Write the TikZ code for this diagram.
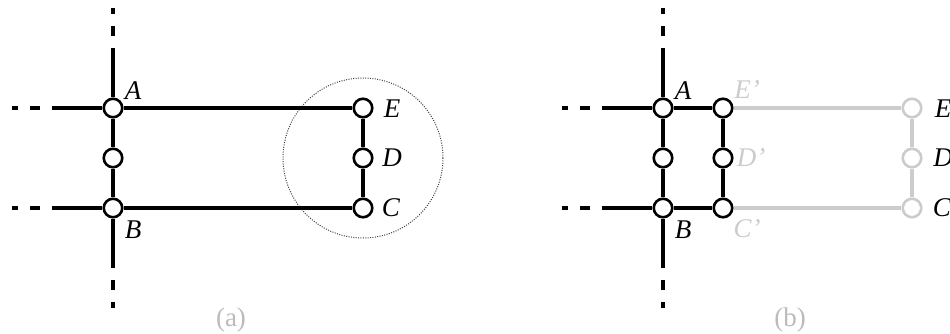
\documentclass[tikz,border=0pt]{standalone}
\usepackage{fontspec}
\setmainfont{Liberation Serif}
\usepackage{xcolor}
\usetikzlibrary{positioning,calc}
\definecolor{ghost}{HTML}{CCCCCC}
\definecolor{captiongray}{HTML}{BBBBBB}
\tikzset{
  junction/.style={
    circle,draw=black,fill=white,
    line width=1.3pt,inner sep=0pt,minimum size=9.25pt
  },
  ghostjunction/.style={junction,draw=ghost},
  wire/.style={draw=black,line width=2.2pt},
  ghostwire/.style={wire,draw=ghost},
  tail/.style={wire,dash pattern=on 5pt off 6pt,dash phase=5pt},
  tag/.style={inner sep=0pt,font=\fontsize{13.5}{15}\selectfont\itshape},
  ghosttag/.style={tag,text=ghost},
  caption/.style={inner sep=0pt,text=captiongray,font=\fontsize{13.5}{15}\selectfont},
  zoomring/.style={draw=black!75,line width=0.5pt,dash pattern=on 0.5pt off 0.7pt}
}

\begin{document}
\begin{tikzpicture}[x=0.5pt,y=-0.5pt]
\useasboundingbox (0,0) rectangle (950,333);

% (a)
\node[junction] (aA) at (113,108) {};
\node[junction] (aM) at (113,158) {};
\node[junction] (aB) at (113,208) {};
\node[junction] (aE) at (363,108) {};
\node[junction] (aD) at (363,158) {};
\node[junction] (aC) at (363,208) {};

\coordinate (aN) at (113,48);  \coordinate (aNend) at (113,8);
\coordinate (aS) at (113,268); \coordinate (aSend) at (113,308);
\coordinate (aW1) at (52,108); \coordinate (aW1end) at (12,108);
\coordinate (aW2) at (52,208); \coordinate (aW2end) at (12,208);

\draw[zoomring] (aD) circle[radius=80];

\draw[wire] (aN)--(aA);
\draw[wire] (aA)--(aM);
\draw[wire] (aM)--(aB);
\draw[wire] (aB)--(aS);
\draw[wire] (aW1)--(aA);
\draw[wire] (aW2)--(aB);
\draw[tail] (aN)--(aNend);
\draw[tail] (aS)--(aSend);
\draw[tail] (aW1)--(aW1end);
\draw[tail] (aW2)--(aW2end);
\draw[wire] (aA)--(aE);
\draw[wire] (aB)--(aC);
\draw[wire] (aE)--(aD);
\draw[wire] (aD)--(aC);

\node[tag] at (133,91) {A};
\node[tag] at (133,230) {B};
\node[tag] at (392,109) {E};
\node[tag] at (392,158) {D};
\node[tag] at (391,208) {C};
\node[caption] (capa) at (231,320) {(a)};

% (b)
\node[junction] (bA) at (663,108) {};
\node[junction] (bM) at (663,158) {};
\node[junction] (bB) at (663,208) {};
\node[junction] (bE1) at (723,108) {};
\node[junction] (bD1) at (723,158) {};
\node[junction] (bC1) at (723,208) {};
\node[ghostjunction] (bE) at (912,108) {};
\node[ghostjunction] (bD) at (912,158) {};
\node[ghostjunction] (bC) at (912,208) {};

\coordinate (bN) at (663,48);  \coordinate (bNend) at (663,8);
\coordinate (bS) at (663,268); \coordinate (bSend) at (663,308);
\coordinate (bW1) at (602,108); \coordinate (bW1end) at (562,108);
\coordinate (bW2) at (602,208); \coordinate (bW2end) at (562,208);

\draw[ghostwire] (bE1)--(bE);
\draw[ghostwire] (bC1)--(bC);
\draw[ghostwire] (bE)--(bD);
\draw[ghostwire] (bD)--(bC);

\draw[wire] (bN)--(bA);
\draw[wire] (bA)--(bM);
\draw[wire] (bM)--(bB);
\draw[wire] (bB)--(bS);
\draw[wire] (bW1)--(bA);
\draw[wire] (bW2)--(bB);
\draw[tail] (bN)--(bNend);
\draw[tail] (bS)--(bSend);
\draw[tail] (bW1)--(bW1end);
\draw[tail] (bW2)--(bW2end);
\draw[wire] (bA)--(bE1);
\draw[wire] (bB)--(bC1);
\draw[wire] (bE1)--(bD1);
\draw[wire] (bD1)--(bC1);

\node[tag] at (683,91) {A};
\node[tag] at (683,230) {B};
\node[ghosttag] at (747,90) {E'};
\node[ghosttag] at (751,158) {D'};
\node[ghosttag] at (747,229) {C'};
\node[tag] at (943,109) {E};
\node[tag] at (943,158) {D};
\node[tag] at (942,208) {C};
\node[caption] (capb) at (790,320) {(b)};
\end{tikzpicture}
\end{document}
